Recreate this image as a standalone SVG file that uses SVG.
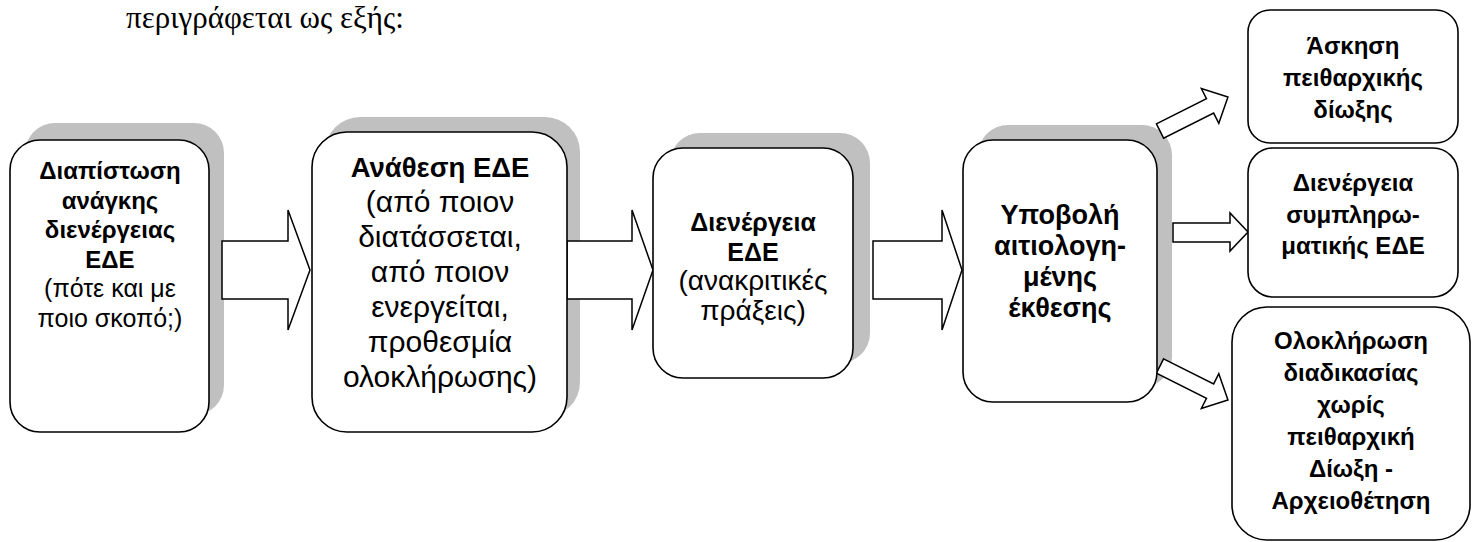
<svg xmlns="http://www.w3.org/2000/svg" width="1473" height="542" viewBox="0 0 1473 542">
<style>
.box{fill:#fff;stroke:#000;stroke-width:1.6}
.sh{fill:#c0c0c0}
.arr{fill:#fff;stroke:#000;stroke-width:1.5;stroke-linejoin:miter}
text{font-family:"Liberation Sans",Arial,sans-serif;fill:#000;text-anchor:middle}
.b{font-weight:bold}
</style>
<rect width="1473" height="542" fill="#fff"/>
<text x="265" y="28" style="font-family:'Liberation Serif','Times New Roman',serif;font-size:31px">περιγράφεται ως εξής:</text>
<g id="shadows">
<rect class="sh" x="25" y="123" width="199" height="292" rx="30"/>
<rect class="sh" x="325" y="117" width="255" height="300" rx="35"/>
<rect class="sh" x="670" y="133" width="200" height="230" rx="30"/>
<rect class="sh" x="978" y="125" width="194" height="262" rx="30"/>
</g>
<g id="connectors">
<polygon class="arr" points="222,241 288,241 288,210 310,270 288,330 288,299 222,299"/>
<polygon class="arr" points="567,241 632,241 632,210 653,270 632,330 632,299 567,299"/>
<polygon class="arr" points="873,241 942,241 942,210 962,270 942,330 942,299 873,299"/>
<polygon class="arr" points="1173,223 1230,223 1230,213 1248,232 1230,251 1230,242 1173,242"/>
<polygon class="arr" transform="translate(1160,131) rotate(-26.6)" points="0,-8 56,-8 56,-19.5 76,0 56,19.5 56,8 0,8"/>
<polygon class="arr" transform="translate(1160,366) rotate(26.6)" points="0,-8 56,-8 56,-19.5 76,0 56,19.5 56,8 0,8"/>
</g>
<g id="n1">
<rect class="box" x="10" y="140" width="199" height="292" rx="30"/>
<text font-size="24"><tspan class="b" x="110" y="179">Διαπίστωση</tspan><tspan class="b" x="110" y="208.6">ανάγκης</tspan><tspan class="b" x="110" y="238.2">διενέργειας</tspan><tspan class="b" x="110" y="267.8">ΕΔΕ</tspan><tspan x="110" y="297.4" font-size="25">(πότε και με</tspan><tspan x="110" y="327" font-size="25">ποιο σκοπό;)</tspan></text>
</g>
<g id="n2">
<rect class="box" x="312" y="132" width="255" height="300" rx="35"/>
<text font-size="30"><tspan class="b" x="440" y="177" font-size="27.5">Ανάθεση ΕΔΕ</tspan><tspan x="440" y="212">(από ποιον</tspan><tspan x="440" y="247">διατάσσεται,</tspan><tspan x="440" y="282">από ποιον</tspan><tspan x="440" y="317">ενεργείται,</tspan><tspan x="440" y="352">προθεσμία</tspan><tspan x="440" y="387">ολοκλήρωσης)</tspan></text>
</g>
<g id="n3">
<rect class="box" x="653" y="148" width="200" height="230" rx="30"/>
<text font-size="28"><tspan class="b" x="753" y="231" font-size="25">Διενέργεια</tspan><tspan class="b" x="753" y="260.7" font-size="25">ΕΔΕ</tspan><tspan x="753" y="290.3">(ανακριτικές</tspan><tspan x="753" y="320">πράξεις)</tspan></text>
</g>
<g id="n4">
<rect class="box" x="963" y="140" width="194" height="262" rx="30"/>
<text font-size="27" class="b"><tspan x="1060" y="224">Υποβολή</tspan><tspan x="1060" y="255">αιτιολογη-</tspan><tspan x="1060" y="286">μένης</tspan><tspan x="1060" y="317">έκθεσης</tspan></text>
</g>
<g id="n5">
<rect class="box" x="1248" y="10" width="210" height="133" rx="22"/>
<text font-size="24" class="b"><tspan x="1353" y="54">Άσκηση</tspan><tspan x="1353" y="86">πειθαρχικής</tspan><tspan x="1353" y="118">δίωξης</tspan></text>
</g>
<g id="n6">
<rect class="box" x="1248" y="148" width="210" height="149" rx="25"/>
<text font-size="24" class="b"><tspan x="1353" y="191">Διενέργεια</tspan><tspan x="1353" y="222.5">συμπληρω-</tspan><tspan x="1353" y="254">ματικής ΕΔΕ</tspan></text>
</g>
<g id="n7">
<rect class="box" x="1232" y="307" width="238" height="233" rx="35"/>
<text font-size="24" class="b"><tspan x="1351" y="349">Ολοκλήρωση</tspan><tspan x="1351" y="381">διαδικασίας</tspan><tspan x="1351" y="413">χωρίς</tspan><tspan x="1351" y="445">πειθαρχική</tspan><tspan x="1351" y="477">Δίωξη -</tspan><tspan x="1351" y="509">Αρχειοθέτηση</tspan></text>
</g>
</svg>
